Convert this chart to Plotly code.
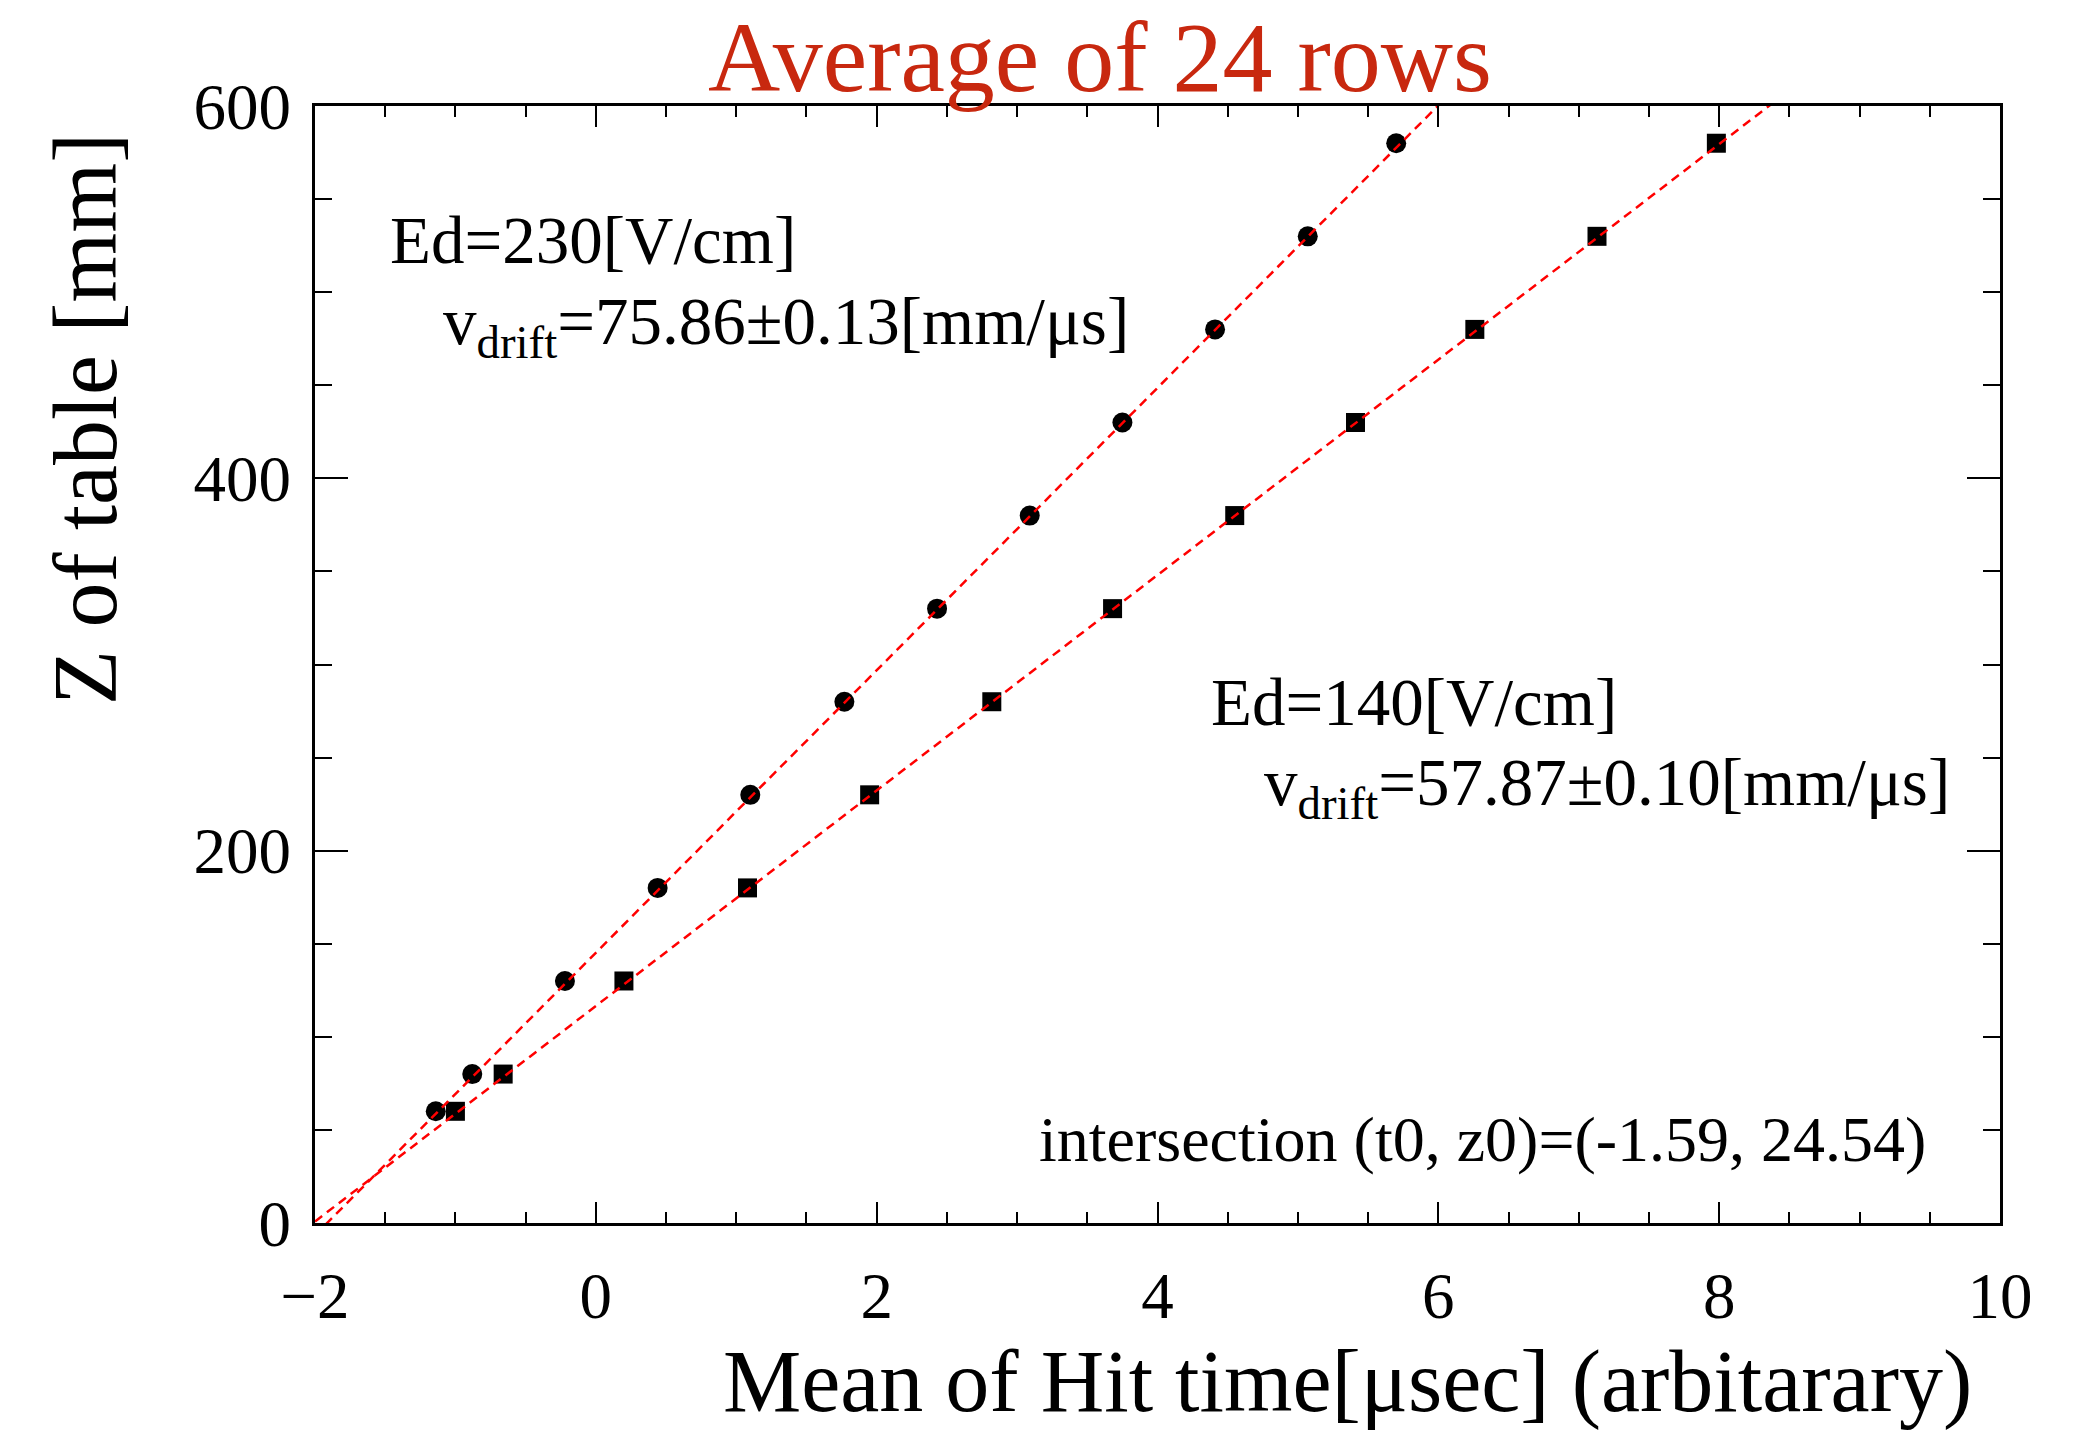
import numpy as np
import plotly.graph_objects as go

# ---- data ----
z_table = [60, 80, 130, 180, 230, 280, 330, 380, 430, 480, 530, 580]
t_ed230 = [-1.14, -0.88, -0.22, 0.44, 1.10, 1.77, 2.43, 3.09, 3.75, 4.41, 5.07, 5.70]
t_ed140 = [-1.00, -0.66, 0.20, 1.08, 1.95, 2.82, 3.68, 4.55, 5.41, 6.26, 7.13, 7.98]

# fit results printed on the chart
v_drift_230 = 75.86
v_drift_140 = 57.87
t0 = -1.59
z0 = 24.54

x_range = [-2, 10]
y_range = [0, 600]
x_ticks = [-2, 0, 2, 4, 6, 8, 10]
y_ticks = [0, 200, 400, 600]

# ---- layout geometry (pixels) ----
W, H = 2084, 1430
L, R, T, B = 315, 2000, 106, 1223


def px(x):
    return (x - L) / (R - L)


def py(y):
    return (B - y) / (B - T)


FONT = "Liberation Serif"

fig = go.Figure()

fig.add_trace(go.Scatter(x=t_ed230, y=z_table, mode="markers",
                         marker=dict(symbol="circle", size=20, color="black"),
                         showlegend=False))
fig.add_trace(go.Scatter(x=t_ed140, y=z_table, mode="markers",
                         marker=dict(symbol="square", size=19, color="black"),
                         showlegend=False))

# fit lines through the intersection point with the fitted drift velocities
xf = np.array(x_range, dtype=float)
for v in (v_drift_230, v_drift_140):
    fig.add_trace(go.Scatter(x=xf, y=z0 + v * (xf - t0), mode="lines",
                             line=dict(color="#ff0000", width=2.5, dash="9px,6px"),
                             showlegend=False))

axis_common = dict(showgrid=False, zeroline=False, showline=True, linecolor="black",
                   linewidth=3, mirror="ticks", ticks="inside", tickcolor="black",
                   tickwidth=2, tickfont=dict(family=FONT, size=65, color="black"))

fig.update_xaxes(range=x_range, tickvals=x_ticks, ticklen=21,
                 minor=dict(ticks="inside", ticklen=11, dtick=0.5, tickwidth=2, tickcolor="black"),
                 ticklabelstandoff=14, **axis_common)
fig.update_yaxes(range=y_range, tickvals=y_ticks, ticklen=33,
                 minor=dict(ticks="inside", ticklen=17, dtick=50, tickwidth=2, tickcolor="black"),
                 ticklabelstandoff=8, **axis_common)


def ann(text, xpx, baseline, size, xanchor="left", color="black", angle=0):
    fig.add_annotation(text=text, xref="paper", yref="paper", x=px(xpx),
                       y=py(baseline - 0.891 * size - 1), xanchor=xanchor, yanchor="top",
                       showarrow=False, textangle=angle,
                       font=dict(family=FONT, size=size, color=color))


ann("Average of 24 rows", 1100, 90, 100, xanchor="center", color="#c8280f")
ann("Ed=230[V/cm]", 388, 262, 67)
ann("v<sub>drift</sub>=75.86±0.13[mm/μs]", 441, 343, 67)
ann("Ed=140[V/cm]", 1209, 724, 67)
ann("v<sub>drift</sub>=57.87±0.10[mm/μs]", 1262, 804, 67)
ann("intersection (t0, z0)=(-1.59, 24.54)", 1037, 1160, 64)
ann("Mean of Hit time[μsec] (arbitarary)", 1974, 1410, 88, xanchor="right")

fig.add_annotation(text="Z of table [mm]", xref="paper", yref="paper",
                   x=px(86), y=py(131), xanchor="center", yanchor="top",
                   textangle=-90, showarrow=False,
                   font=dict(family=FONT, size=90, color="black"))

fig.update_layout(width=W, height=H, margin=dict(l=L, r=W - R, t=T, b=H - B),
                  paper_bgcolor="white", plot_bgcolor="white", showlegend=False)

fig.write_html("out.html")
